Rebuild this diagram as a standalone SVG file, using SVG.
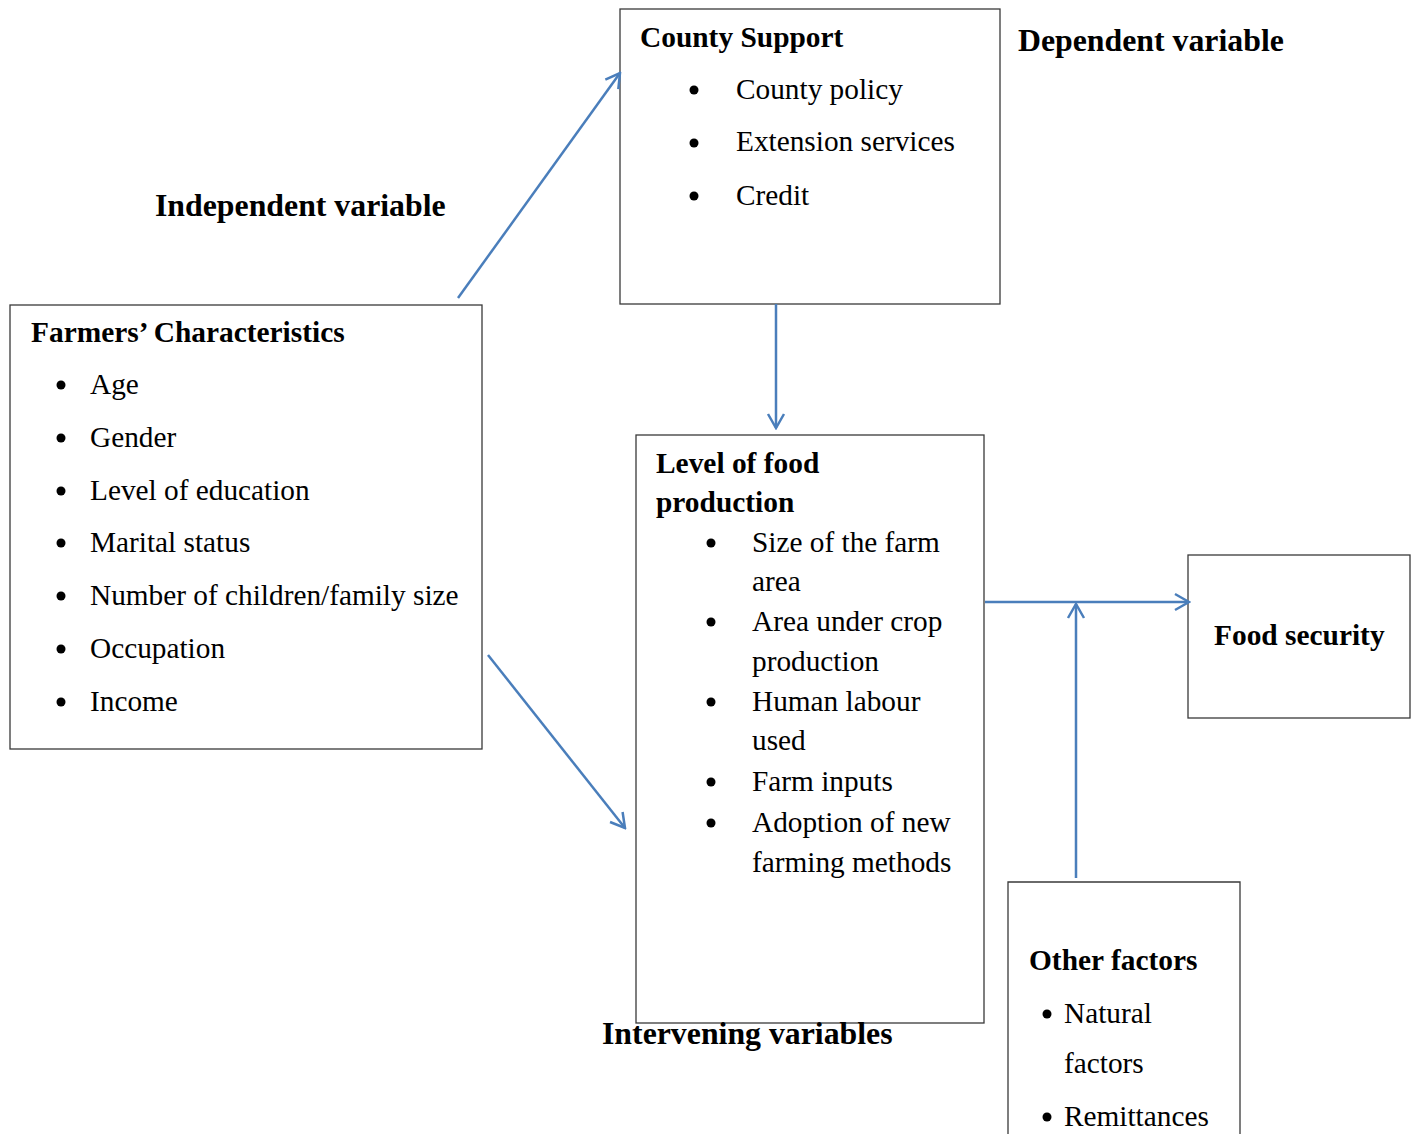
<svg xmlns="http://www.w3.org/2000/svg" width="1416" height="1134" viewBox="0 0 1416 1134">
<style>
.box{fill:#fff;stroke:#3a3a3a;stroke-width:1.3}
.t{font-family:"Liberation Serif","Times New Roman",serif;font-size:29.3px;fill:#000}
.b{font-family:"Liberation Serif","Times New Roman",serif;font-size:29.4px;font-weight:bold;fill:#000}
.h{font-family:"Liberation Serif","Times New Roman",serif;font-size:31.8px;font-weight:bold;fill:#000}
.dot{fill:#000}
.c{stroke:#4a7ebb;stroke-width:2.5;fill:none;marker-end:url(#arr)}
</style>
<defs>
<marker id="arr" viewBox="0 0 20 20" refX="18" refY="10" markerWidth="20" markerHeight="20" markerUnits="userSpaceOnUse" orient="auto">
<path d="M4,2 L18,10 L4,18" fill="none" stroke="#4a7ebb" stroke-width="2.5"/>
</marker>
</defs>
<rect width="1416" height="1134" fill="#fff"/>
<g id="labels">
<text class="h" x="1018" y="51">Dependent variable</text>
<text class="h" x="155" y="216">Independent variable</text>
</g>
<g id="county">
<rect class="box" x="620" y="9" width="380" height="295"/>
<text class="b" x="640" y="47">County Support</text>
<circle class="dot" cx="694" cy="90" r="4.5"/><text class="t" x="736" y="99">County policy</text>
<circle class="dot" cx="694" cy="143" r="4.5"/><text class="t" x="736" y="151">Extension services</text>
<circle class="dot" cx="694" cy="196" r="4.5"/><text class="t" x="736" y="205">Credit</text>
</g>
<g id="farmers">
<rect class="box" x="10" y="305" width="472" height="444"/>
<text class="b" x="31" y="342">Farmers’ Characteristics</text>
<circle class="dot" cx="61" cy="385" r="4.5"/><text class="t" x="90" y="394">Age</text>
<circle class="dot" cx="61" cy="438" r="4.5"/><text class="t" x="90" y="447">Gender</text>
<circle class="dot" cx="61" cy="491" r="4.5"/><text class="t" x="90" y="500">Level of education</text>
<circle class="dot" cx="61" cy="543" r="4.5"/><text class="t" x="90" y="552">Marital status</text>
<circle class="dot" cx="61" cy="596" r="4.5"/><text class="t" x="90" y="605">Number of children/family size</text>
<circle class="dot" cx="61" cy="649" r="4.5"/><text class="t" x="90" y="658">Occupation</text>
<circle class="dot" cx="61" cy="702" r="4.5"/><text class="t" x="90" y="711">Income</text>
</g>
<g id="food-production">
<rect class="box" x="636" y="435" width="348" height="588"/>
<text class="b" x="656" y="473">Level of food</text>
<text class="b" x="656" y="512">production</text>
<circle class="dot" cx="711" cy="543" r="4.5"/><text class="t" x="752" y="552">Size of the farm</text>
<text class="t" x="752" y="591">area</text>
<circle class="dot" cx="711" cy="622" r="4.5"/><text class="t" x="752" y="631">Area under crop</text>
<text class="t" x="752" y="671">production</text>
<circle class="dot" cx="711" cy="702" r="4.5"/><text class="t" x="752" y="711">Human labour</text>
<text class="t" x="752" y="750">used</text>
<circle class="dot" cx="711" cy="782" r="4.5"/><text class="t" x="752" y="791">Farm inputs</text>
<circle class="dot" cx="711" cy="823" r="4.5"/><text class="t" x="752" y="832">Adoption of new</text>
<text class="t" x="752" y="872">farming methods</text>
</g>
<g id="intervening-label">
<text class="h" x="602" y="1044">Intervening variables</text>
</g>
<g id="food-security">
<rect class="box" x="1188" y="555" width="222" height="163"/>
<text class="b" x="1214" y="645">Food security</text>
</g>
<g id="other-factors">
<path class="box" d="M1008,1140 V882 H1240 V1140"/>
<text class="b" x="1029" y="970">Other factors</text>
<circle class="dot" cx="1047" cy="1014" r="4.5"/><text class="t" x="1064" y="1023">Natural</text>
<text class="t" x="1064" y="1073">factors</text>
<circle class="dot" cx="1047" cy="1117" r="4.5"/><text class="t" x="1064" y="1126">Remittances</text>
</g>
<g id="connectors">
<line class="c" x1="458" y1="298" x2="620" y2="73"/>
<line class="c" x1="776" y1="304" x2="776" y2="428"/>
<line class="c" x1="488" y1="655" x2="625" y2="828"/>
<line class="c" x1="985" y1="602" x2="1189" y2="602"/>
<line class="c" x1="1076" y1="878" x2="1076" y2="604"/>
</g>
</svg>
